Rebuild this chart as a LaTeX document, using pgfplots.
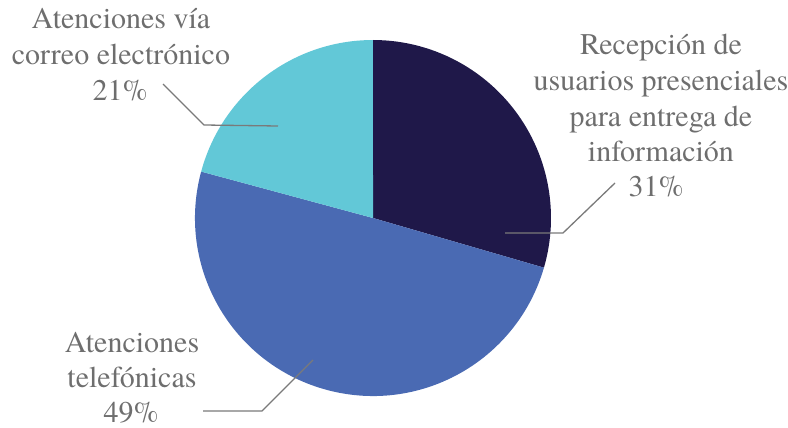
\documentclass[border=0pt]{standalone}
\usepackage{pgfplots}
\usepackage{pgfplotstable}
\pgfplotsset{compat=1.18}
\usepackage{fontspec}
\setmainfont{Liberation Serif}
\newfontfamily\labfont{texgyretermes-regular.otf}
\definecolor{navy}{HTML}{1F1849}
\definecolor{midblue}{HTML}{4A6AB3}
\definecolor{teal2}{HTML}{62C8D7}
\definecolor{labgray}{HTML}{6E6E6E}
\definecolor{linegray}{HTML}{7A7A7A}

% slice shares as drawn (percent of the circle)
\pgfplotstableread{
slice value
Recepcion 29.5
Telefonicas 49.7
Correo 20.8
}\piedata
\pgfplotstablegetelem{0}{value}\of\piedata \let\va\pgfplotsretval
\pgfplotstablegetelem{1}{value}\of\piedata \let\vb\pgfplotsretval
\pgfplotstablegetelem{2}{value}\of\piedata \let\vc\pgfplotsretval
\pgfmathsetmacro{\tot}{\va+\vb+\vc}
\pgfmathsetmacro{\aA}{90}
\pgfmathsetmacro{\aB}{90-(\va/\tot)*360}
\pgfmathsetmacro{\aC}{\aB-(\vb/\tot)*360}
\pgfmathsetmacro{\aD}{\aC-(\vc/\tot)*360}

\begin{document}
\begin{tikzpicture}
\begin{axis}[
  at={(0,0)}, anchor=south west,
  width=788pt, height=428pt, scale only axis,
  xmin=0, xmax=788, ymin=0, ymax=428, y dir=reverse,
  hide axis, clip=false,
]
\fill[navy] (axis cs:373,218) -- ++(\aA:178pt) arc[start angle=\aA, end angle=\aB, radius=178pt] -- cycle;
\fill[midblue] (axis cs:373,218) -- ++(\aB:178pt) arc[start angle=\aB, end angle=\aC, radius=178pt] -- cycle;
\fill[teal2] (axis cs:373,218) -- ++(\aC:178pt) arc[start angle=\aC, end angle=\aD, radius=178pt] -- cycle;

\draw[linegray, line width=1.3pt] (axis cs:505,233) -- (axis cs:563,233) -- (axis cs:615,183);
\draw[linegray, line width=1.3pt] (axis cs:278,126) -- (axis cs:204,125) -- (axis cs:163,84);
\draw[linegray, line width=1.3pt] (axis cs:313,360) -- (axis cs:262,411) -- (axis cs:203,411);

\tikzset{lab/.style={anchor=base, inner sep=0pt, text=labgray, font=\labfont\fontsize{30}{35}\selectfont}}
\node[lab] at (axis cs:661,55) {Recepción de};
\node[lab] at (axis cs:661,90.5) {usuarios presenciales};
\node[lab] at (axis cs:661,126) {para entrega de};
\node[lab] at (axis cs:661,161) {información};
\node[lab] at (axis cs:656,196) {31\%};

\node[lab] at (axis cs:121,29) {Atenciones vía};
\node[lab] at (axis cs:121,64.5) {correo electrónico};
\node[lab] at (axis cs:120,100) {21\%};

\node[lab] at (axis cs:132,352) {Atenciones};
\node[lab] at (axis cs:132,387) {telefónicas};
\node[lab] at (axis cs:131,422) {49\%};
\end{axis}
\pgfresetboundingbox
\useasboundingbox (0,0) rectangle (788pt,428pt);
\end{tikzpicture}
\end{document}
